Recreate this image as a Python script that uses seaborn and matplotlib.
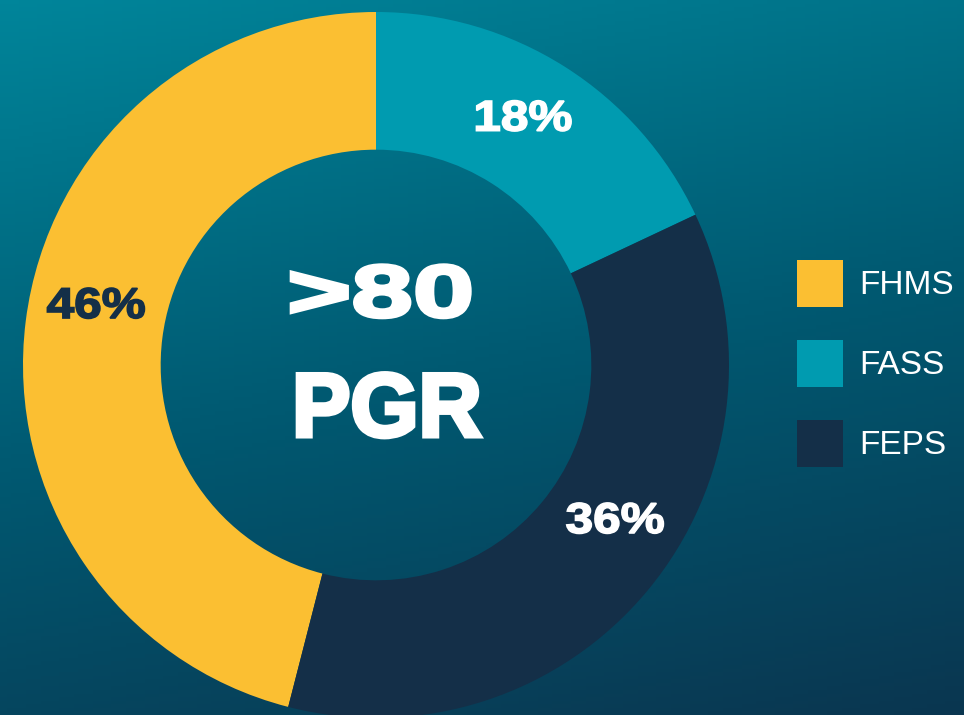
import numpy as np
import seaborn as sns
import matplotlib.pyplot as plt
from matplotlib.colors import LinearSegmentedColormap
from matplotlib.patheffects import AbstractPathEffect
from matplotlib.transforms import Affine2D

# Share of PGR students by faculty (legend order)
faculties = ["FHMS", "FASS", "FEPS"]
shares = [46, 18, 36]
pct_labels = ["46%", "18%", "36%"]
center_lines = [">80", "PGR"]

sns.set_style("white")
plt.rcParams["font.family"] = ["Liberation Sans", "DejaVu Sans"]

palette = sns.color_palette(["#FBBF32", "#009BB0", "#142F48"])
label_colors = ["#142F48", "white", "white"]


class Heavy(AbstractPathEffect):
    """Stretch the glyphs horizontally about their centre and fatten them with a stroke."""

    def __init__(self, sx=1.0, lw=0.0, color="white"):
        super().__init__()
        self.sx, self.lw, self.color = sx, lw, color

    def draw_path(self, renderer, gc, tpath, affine, rgbFace=None):
        v = affine.transform(tpath.vertices)
        cx = (v[:, 0].min() + v[:, 0].max()) / 2
        tr = affine + Affine2D().translate(-cx, 0).scale(self.sx, 1).translate(cx, 0)
        gc0 = renderer.new_gc()
        gc0.copy_properties(gc)
        gc0.set_linewidth(self.lw)
        gc0.set_foreground(self.color)
        gc0.set_joinstyle("miter")
        renderer.draw_path(gc0, tpath, tr, rgbFace)
        gc0.restore()


W, H = 964, 715
fig = plt.figure(figsize=(W / 100, H / 100), dpi=100)

# --- Background gradient (teal top-left to dark blue bottom-right) ---
bg = fig.add_axes([0, 0, 1, 1])
yy, xx = np.mgrid[0:1:200j, 0:1:260j]
t = 0.78 * yy + 0.22 * xx
bg_cmap = LinearSegmentedColormap.from_list("bg", ["#00859A", "#005A72", "#0A3650"])
bg.imshow(t, cmap=bg_cmap, aspect="auto", extent=[0, 1, 0, 1], origin="upper")
bg.set_axis_off()

# --- Donut ---
cx, cy, r = 376, 365, 353
ax = fig.add_axes([(cx - r) / W, (H - cy - r) / H, 2 * r / W, 2 * r / H])
ax.set_facecolor("none")
start = 90 + 360 * shares[0] / sum(shares)
wedges, _ = ax.pie(
    shares, colors=palette, startangle=start, counterclock=False,
    radius=1.0, wedgeprops=dict(width=0.39, linewidth=0),
)
ax.set_xlim(-1, 1)
ax.set_ylim(-1, 1)
ax.set_aspect("equal")
ax.set_axis_off()

# percentage labels, nudged a little from wedge middle like the original
nudges = [-4.5, 1.5, 6.3]
for w, lab, col, nd in zip(wedges, pct_labels, label_colors, nudges):
    ang = np.deg2rad((w.theta1 + w.theta2) / 2 + nd)
    ax.text(0.81 * np.cos(ang), 0.81 * np.sin(ang), lab, color=col,
            fontsize=31, fontweight="bold", ha="center", va="center",
            path_effects=[Heavy(sx=1.15, lw=1.2, color=col)])

ax.text(0.011, 0.137, center_lines[0], color="white", fontsize=53,
        fontweight="bold", ha="center", va="baseline",
        path_effects=[Heavy(sx=1.5, lw=2.8, color="white")])
ax.text(0.031, -0.202, center_lines[1], color="white", fontsize=65,
        fontweight="bold", ha="center", va="baseline",
        path_effects=[Heavy(sx=0.97, lw=3.2, color="white")])

# --- Legend ---
fig.legend(
    wedges, faculties, loc="upper left",
    bbox_to_anchor=(797 / W, 1 - 260 / H), frameon=False,
    fontsize=24, labelcolor="white", borderpad=0, borderaxespad=0,
    handlelength=1.38, handleheight=1.78, handletextpad=0.48, labelspacing=1.0,
)

fig.savefig("out.png", dpi=100)
